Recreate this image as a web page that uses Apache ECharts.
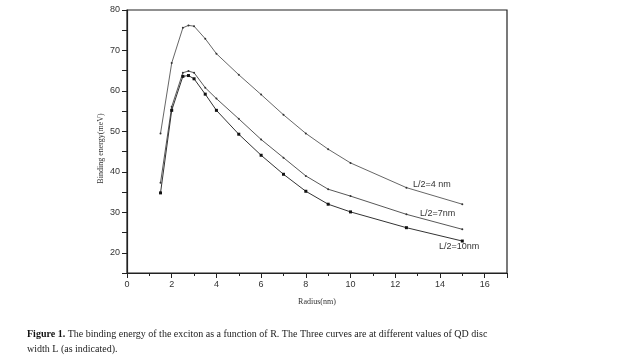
<!DOCTYPE html>
<html><head><meta charset="utf-8">
<script src="https://cdn.jsdelivr.net/npm/echarts@6/dist/echarts.min.js"></script>
<style>html,body{margin:0;padding:0;background:#fff}#c{width:624px;height:362px}</style>
</head><body><div id="c"></div>
<script>
const radius = [1.5, 2, 2.5, 2.75, 3, 3.5, 4, 5, 6, 7, 8, 9, 10, 12.5, 15];
const seriesNames = ['L/2=4 nm', 'L/2=7nm', 'L/2=10nm'];
const energy4 = [49.5, 66.9, 75.6, 76.2, 76.0, 72.9, 69.2, 64.0, 59.1, 54.1, 49.5, 45.6, 42.2, 36.1, 32.0];
const energy7 = [37.3, 56.1, 64.5, 64.9, 64.5, 60.8, 58.1, 53.1, 48.0, 43.5, 39.0, 35.7, 34.0, 29.5, 25.8];
const energy10 = [34.8, 55.2, 63.6, 63.8, 63.0, 59.2, 55.2, 49.3, 44.1, 39.4, 35.2, 32.0, 30.1, 26.2, 22.9];
const xTicks = [0, 2, 4, 6, 8, 10, 12, 14, 16];
const yTicks = [20, 30, 40, 50, 60, 70, 80];

const chart = echarts.init(document.getElementById('c'), null, {renderer: 'canvas'});
const pair = (ys) => radius.map((x, i) => [x, ys[i]]);
const axisFont = {fontFamily: 'Liberation Sans, Arial', fontSize: 9, color: '#333'};
chart.setOption({
  animation: false,
  backgroundColor: '#fff',
  grid: {left: 127, right: 117, top: 10, bottom: 89, show: true, borderColor: '#222', borderWidth: 1.2, backgroundColor: 'transparent'},
  xAxis: {
    type: 'value', min: 0, max: 17, interval: 2,
    name: 'Radius(nm)', nameLocation: 'middle', nameGap: 25,
    nameTextStyle: {fontFamily: 'Liberation Serif', fontSize: 8, color: '#333'},
    axisLine: {onZero: false, lineStyle: {color: '#222', width: 1.2}},
    axisTick: {show: true, inside: false, length: 5, lineStyle: {color: '#222'}},
    minorTick: {show: true, splitNumber: 2, length: 3, lineStyle: {color: '#222'}},
    axisLabel: Object.assign({margin: 7, formatter: v => xTicks.includes(v) ? String(v) : ''}, axisFont),
    splitLine: {show: false}
  },
  yAxis: {
    type: 'value', min: 15, max: 80, interval: 5,
    name: 'Binding energy(meV)', nameLocation: 'middle', nameGap: 22, nameRotate: 90, nameMoveOverlap: false,
    nameTextStyle: {fontFamily: 'Liberation Serif', fontSize: 8, color: '#333', padding: [0, 14, 0, 0]},
    axisLine: {onZero: false, lineStyle: {color: '#222', width: 1.2}},
    axisTick: {show: true, inside: false, length: 5, lineStyle: {color: '#222'}, interval: 0},
    axisLabel: Object.assign({margin: 7, formatter: v => yTicks.includes(v) ? String(v) : ''}, axisFont),
    splitLine: {show: false}
  },
  series: [
    {name: seriesNames[0], type: 'line', data: pair(energy4), symbol: 'circle', symbolSize: 2,
     lineStyle: {color: '#555', width: 0.9}, itemStyle: {color: '#333'}},
    {name: seriesNames[1], type: 'line', data: pair(energy7), symbol: 'circle', symbolSize: 2,
     lineStyle: {color: '#444', width: 0.9}, itemStyle: {color: '#333'}},
    {name: seriesNames[2], type: 'line', data: pair(energy10), symbol: 'rect', symbolSize: 3,
     lineStyle: {color: '#333', width: 1}, itemStyle: {color: '#111'}}
  ],
  graphic: [
    {type: 'text', left: 413, top: 180, style: {text: seriesNames[0], font: '9px "Liberation Sans"', fill: '#333'}},
    {type: 'text', left: 420, top: 209, style: {text: seriesNames[1], font: '9px "Liberation Sans"', fill: '#333'}},
    {type: 'text', left: 439, top: 242, style: {text: seriesNames[2], font: '9px "Liberation Sans"', fill: '#333'}},
    {type: 'text', left: 27, top: 327, style: {
      text: '{b|Figure 1.} The binding energy of the exciton as a function of R. The Three curves are at different values of QD disc\nwidth L (as indicated).',
      font: '10px "Liberation Serif"', fill: '#222', lineHeight: 15,
      rich: {b: {fontWeight: 'bold', fontFamily: 'Liberation Serif', fontSize: 10, fill: '#111'}}
    }}
  ]
});
</script></body></html>
